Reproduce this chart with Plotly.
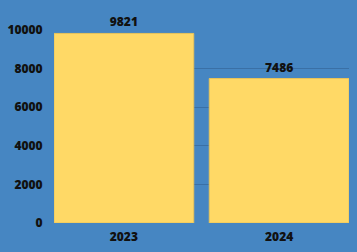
import plotly.graph_objects as go

categories = ["2023", "2024"]
values = [9821, 7486]
tick_vals = [0, 2000, 4000, 6000, 8000, 10000]
tick_text = ["0", "2000", "4000", "6000", "8000", "10000"]

bg = "#4686C2"
fnt = "Open Sans"
fig = go.Figure(go.Bar(
    x=[0, 1], y=values, width=0.9,
    marker=dict(color="#FFD966", line=dict(color="#E8C35A", width=1)),
    text=[str(v) for v in values], textposition="outside",
    textfont=dict(family=fnt, size=12, color="#111111", weight=800),
    cliponaxis=False,
))
fig.update_layout(
    width=357, height=252,
    margin=dict(l=54, r=8, t=30, b=29),
    paper_bgcolor=bg, plot_bgcolor=bg,
    showlegend=False,
    font=dict(family=fnt, size=12, color="#111111", weight=800),
)
fig.update_yaxes(range=[0, 10000], tickvals=tick_vals, ticktext=tick_text,
                 gridcolor="#3A70A6", gridwidth=1, zeroline=False,
                 ticks="outside", ticklen=8, tickcolor="rgba(0,0,0,0)",
                 tickfont=dict(size=12, weight=800))
fig.update_xaxes(range=[-0.45, 1.45], tickvals=[0, 1], ticktext=categories,
                 showgrid=False, zeroline=False,
                 ticks="outside", ticklen=3, tickcolor="rgba(0,0,0,0)",
                 tickfont=dict(size=12, weight=800))
fig.write_html("out.html")
